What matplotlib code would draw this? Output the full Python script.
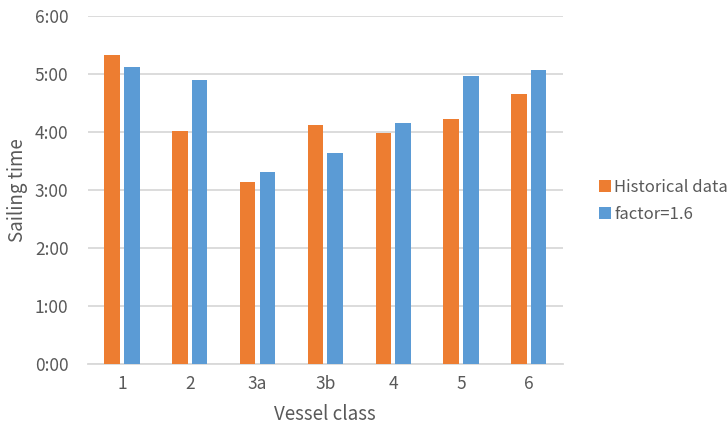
import matplotlib.pyplot as plt
import matplotlib.ticker as mticker
import numpy as np

plt.rcParams['font.family'] = ['Noto Sans CJK SC', 'DejaVu Sans']

# sailing times per vessel class, in minutes
classes = ['1', '2', '3a', '3b', '4', '5', '6']
historical = [320, 241, 188, 247, 239, 254, 279]
factor_16 = [307, 294, 199, 218, 249, 298, 304]
series_names = ['Historical data', 'factor=1.6']

orange = '#ED7D31'
blue = '#5B9BD5'
text_col = '#595959'
grid_col = '#D9D9D9'

fig = plt.figure(figsize=(7.27, 4.28), dpi=100)
ax = fig.add_axes([0.121, 0.1495, 0.653, 0.813])

x = np.arange(len(classes))
w = 0.23
off = 0.145
hist_h = np.array(historical) / 60
fac_h = np.array(factor_16) / 60
ax.bar(x - off, hist_h, w, color=orange, label=series_names[0], zorder=3)
ax.bar(x + off, fac_h, w, color=blue, label=series_names[1], zorder=3)

ax.set_xlim(-0.5, len(classes) - 0.5)
ax.set_ylim(0, 6)
ax.set_yticks(range(0, 7))
ax.yaxis.set_major_formatter(mticker.FuncFormatter(lambda v, p: f'{int(v)}:00'))
ax.set_xticks(x)
ax.set_xticklabels(classes)
ax.grid(axis='y', color=grid_col, linewidth=1.3, zorder=0)
for s in ['top', 'right', 'left']:
    ax.spines[s].set_visible(False)
ax.spines['bottom'].set_color(grid_col)
ax.spines['bottom'].set_linewidth(1.3)
ax.tick_params(length=0, labelsize=12.5, colors=text_col)
ax.tick_params(axis='x', pad=8)
ax.tick_params(axis='y', pad=14)

ax.set_xlabel('Vessel class', fontsize=13.5, color=text_col, labelpad=8)
ax.set_ylabel('Sailing time', fontsize=13.5, color=text_col, labelpad=5)

leg = ax.legend(loc='center left', bbox_to_anchor=(0.815, 0.53), bbox_transform=fig.transFigure,
                frameon=False, fontsize=12, handlelength=0.7, handleheight=0.7,
                handletextpad=0.2, labelspacing=0.6, borderaxespad=0)
for t in leg.get_texts():
    t.set_color(text_col)

fig.savefig('out.png', dpi=100)
